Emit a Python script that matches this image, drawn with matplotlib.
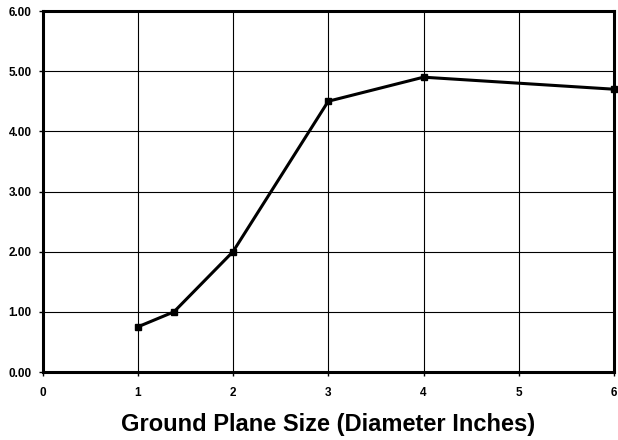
import matplotlib
matplotlib.use("Agg")
import matplotlib.pyplot as plt

x_vals = [1, 1.38, 2, 3, 4, 6]
y_vals = [0.75, 1.0, 2.0, 4.5, 4.9, 4.7]
x_ticks = [0, 1, 2, 3, 4, 5, 6]
y_ticks = [0, 1, 2, 3, 4, 5, 6]
x_label = "Ground Plane Size (Diameter Inches)"

plt.rcParams['font.family'] = ['Liberation Sans', 'DejaVu Sans']

fig = plt.figure(figsize=(6.18, 4.40), dpi=100)
ax = fig.add_axes([42.5/618, (440-372)/440, (614-42.5)/618, (372-11)/440])
ax.plot(x_vals, y_vals, color='black', lw=2.2, marker='s', ms=4.5, clip_on=False, zorder=3)
ax.set_xlim(0, 6)
ax.set_ylim(0, 6)
ax.set_xticks(x_ticks)
ax.set_yticks(y_ticks)
ax.set_xticklabels([str(t) for t in x_ticks], fontsize=8.5, fontweight='bold')
ax.set_yticklabels([f"{t:.2f}" for t in y_ticks], fontsize=8.5, fontweight='bold')
ax.grid(True, color='black', lw=0.8)
ax.set_axisbelow(True)
for s in ax.spines.values():
    s.set_linewidth(2.2)
    s.set_color('black')
ax.tick_params(axis='y', direction='out', length=3, width=1, pad=5, color='black')
ax.tick_params(axis='x', direction='out', length=3, width=1, pad=8, color='black')
ax.set_xlabel(x_label, fontsize=17, fontweight='bold', labelpad=10)
fig.savefig("out.png", dpi=100, facecolor='white')
